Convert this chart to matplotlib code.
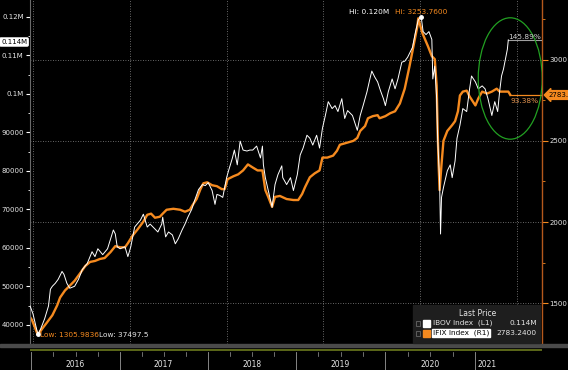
import matplotlib
matplotlib.use('Agg')
import matplotlib.pyplot as plt
from matplotlib.patches import Ellipse, Rectangle

# ---------------- data (fractional years, index levels) ----------------
ibov_t = [2015.97, 2016.00, 2016.05, 2016.08, 2016.12, 2016.16, 2016.18, 2016.20, 2016.23, 2016.26,
          2016.30, 2016.32, 2016.35, 2016.38, 2016.43, 2016.47, 2016.51, 2016.56, 2016.61, 2016.64,
          2016.67, 2016.72, 2016.77, 2016.83, 2016.85, 2016.87, 2016.90, 2016.95, 2016.98, 2017.01,
          2017.05, 2017.11, 2017.14, 2017.18, 2017.21, 2017.24, 2017.29, 2017.33, 2017.34, 2017.37,
          2017.40, 2017.44, 2017.47, 2017.50, 2017.54, 2017.57, 2017.60, 2017.64, 2017.67, 2017.71,
          2017.75, 2017.78, 2017.81, 2017.85, 2017.88, 2017.90, 2017.93, 2017.96, 2018.00, 2018.02,
          2018.06, 2018.08, 2018.11, 2018.14, 2018.17, 2018.21, 2018.24, 2018.27, 2018.31, 2018.35,
          2018.37, 2018.38, 2018.40, 2018.43, 2018.47, 2018.50, 2018.53, 2018.57, 2018.58, 2018.62,
          2018.66, 2018.69, 2018.73, 2018.76, 2018.79, 2018.83, 2018.86, 2018.89, 2018.93, 2018.96,
          2018.99, 2019.02, 2019.05, 2019.09, 2019.12, 2019.15, 2019.19, 2019.22, 2019.25, 2019.30,
          2019.35, 2019.38, 2019.41, 2019.45, 2019.48, 2019.50, 2019.53, 2019.56, 2019.59, 2019.62,
          2019.64, 2019.67, 2019.71, 2019.74, 2019.77, 2019.81, 2019.84, 2019.87, 2019.92, 2019.95,
          2019.98, 2020.01, 2020.03, 2020.06, 2020.09, 2020.12, 2020.13, 2020.15, 2020.17, 2020.18,
          2020.20, 2020.21, 2020.22, 2020.24, 2020.28, 2020.31, 2020.33, 2020.36, 2020.38, 2020.41,
          2020.44, 2020.48, 2020.51, 2020.53, 2020.57, 2020.60, 2020.64, 2020.67, 2020.70, 2020.74,
          2020.77, 2020.80, 2020.82, 2020.84, 2020.86, 2020.88, 2020.90, 2020.91]
ibov_v = [44870, 42820, 37500, 38970, 41540, 44870, 49230, 50000, 50770, 51800,
          53850, 53080, 50770, 49490, 50000, 51800, 54360, 55900, 58970, 57690,
          59740, 58210, 59740, 64620, 63590, 60260, 59740, 60260, 57690, 60260,
          65380, 67180, 68720, 65380, 66150, 65380, 64100, 66150, 67950, 62820,
          64100, 63330, 61030, 62310, 64620, 66150, 67950, 70000, 72310, 75130,
          76410, 76150, 76920, 74870, 71280, 73850, 73590, 73080, 78210, 80000,
          83330, 85380, 81540, 87690, 85380, 85130, 85380, 85380, 86410, 83330,
          86410, 81540, 78210, 74870, 70510, 76410, 78970, 81280, 78210, 76410,
          78210, 74870, 78970, 84100, 85900, 89230, 88460, 86670, 89230, 85900,
          91030, 94360, 97950, 96150, 96920, 95380, 98720, 93590, 95640, 94360,
          90510, 94360, 96920, 100510, 103850, 105900, 104360, 103080, 100770, 98720,
          96920, 100510, 103850, 101280, 103850, 108210, 108460, 109490, 112050, 115900,
          119230, 120000, 116150, 115380, 116150, 114100, 103850, 107180, 98720, 88460,
          77440, 63570, 73080, 75640, 80000, 81540, 78210, 82560, 88460, 91790,
          96150, 95380, 101280, 104620, 103080, 101280, 102050, 101280, 98720, 94360,
          97950, 95380, 100510, 104620, 106410, 108970, 111540, 114000]

ifix_t = [2015.97, 2015.99, 2016.05, 2016.10, 2016.14, 2016.20, 2016.25, 2016.28, 2016.33, 2016.38,
          2016.43, 2016.49, 2016.54, 2016.59, 2016.64, 2016.69, 2016.74, 2016.80, 2016.85, 2016.90,
          2016.95, 2016.98, 2017.03, 2017.08, 2017.14, 2017.18, 2017.22, 2017.26, 2017.31, 2017.34,
          2017.38, 2017.45, 2017.52, 2017.57, 2017.62, 2017.65, 2017.69, 2017.73, 2017.76, 2017.80,
          2017.85, 2017.90, 2017.95, 2017.98, 2018.01, 2018.07, 2018.12, 2018.17, 2018.22, 2018.27,
          2018.32, 2018.37, 2018.40, 2018.43, 2018.47, 2018.50, 2018.55, 2018.62, 2018.69, 2018.74,
          2018.78, 2018.81, 2018.86, 2018.91, 2018.96, 2018.99, 2019.04, 2019.10, 2019.14, 2019.17,
          2019.24, 2019.31, 2019.35, 2019.38, 2019.43, 2019.46, 2019.51, 2019.56, 2019.58, 2019.64,
          2019.69, 2019.74, 2019.79, 2019.84, 2019.89, 2019.93, 2019.97, 2019.98, 2020.02, 2020.05,
          2020.08, 2020.12, 2020.15, 2020.17, 2020.18, 2020.19, 2020.20, 2020.22, 2020.24, 2020.28,
          2020.33, 2020.36, 2020.39, 2020.41, 2020.44, 2020.48, 2020.51, 2020.57, 2020.60, 2020.64,
          2020.69, 2020.74, 2020.79, 2020.82, 2020.86, 2020.91, 2020.93]
ifix_v = [1415, 1397, 1306, 1348, 1379, 1427, 1488, 1536, 1579, 1609,
          1639, 1688, 1730, 1755, 1761, 1773, 1779, 1815, 1852, 1845,
          1845, 1870, 1918, 1955, 2003, 2045, 2052, 2027, 2033, 2052,
          2076, 2082, 2076, 2064, 2076, 2106, 2142, 2203, 2239, 2245,
          2227, 2221, 2203, 2203, 2264, 2282, 2294, 2318, 2355, 2336,
          2318, 2318, 2197, 2155, 2094, 2155, 2161, 2142, 2136, 2136,
          2173, 2215, 2276, 2300, 2318, 2397, 2397, 2409, 2439, 2476,
          2488, 2500, 2518, 2561, 2591, 2639, 2652, 2658, 2639, 2652,
          2670, 2682, 2730, 2821, 2961, 3082, 3203, 3254, 3167, 3124,
          3082, 3021, 3003, 2839, 2561, 2355, 2197, 2355, 2500, 2561,
          2597, 2621, 2682, 2779, 2803, 2809, 2773, 2718, 2761, 2803,
          2791, 2803, 2821, 2803, 2803, 2803, 2783]

left_ticks = [40000, 50000, 60000, 70000, 80000, 90000, 100000, 110000, 120000]
left_labels = ['40000', '50000', '60000', '70000', '80000', '90000', '0.1M', '0.11M', '0.12M']
right_ticks = [1500, 2000, 2500, 3000]
right_labels = ['1500', '2000', '2500', '3000']
year_labels = ['2016', '2017', '2018', '2019', '2020', '2021']
grid_years = [2016, 2017, 2018, 2019, 2020, 2021]

ibov_last_lbl = '0.114M'
ifix_last_lbl = '2783.2400'
ifix_flag_lbl = '2783.'
ibov_hi_lbl = 'Hi: 0.120M'
ifix_hi_lbl = 'Hi: 3253.7600'
ifix_low_lbl = 'Low: 1305.9836'
ibov_low_lbl = 'Low: 37497.5'
ibov_pct_lbl = '145.89%'
ifix_pct_lbl = '93.38%'

# ---------------- layout ----------------
W, H = 568, 370
ORANGE = '#f58a1f'
GRID = '#8a8a8a'
TXT = '#e6e6e6'

def fx(px):
    return px / W

def fy(py):
    return 1 - py / H

X0, X1 = 2015.969, 2021.258

fig = plt.figure(figsize=(W / 100, H / 100), dpi=100, facecolor='black')
ax = fig.add_axes([fx(30), fy(344), fx(542) - fx(30), fy(0) - fy(344)])
ax.set_facecolor('black')
ax2 = ax.twinx()

# IFIX on primary axis (right ticks), IBOV on twin (left ticks) -> white on top
ax.set_xlim(X0, X1)
ax.set_ylim(1281.8, 3366.7)
ax2.set_ylim(36154, 124359)
ax.yaxis.set_ticks_position('right')
ax2.yaxis.set_ticks_position('left')

for yv in right_ticks:
    ax.axhline(yv, color=GRID, lw=0.6, ls=(0, (1, 2)), zorder=1)
for xv in grid_years:
    ax.axvline(xv, color=GRID, lw=0.6, ls=(0, (1, 2)), zorder=1)

ax.plot(ifix_t, ifix_v, color=ORANGE, lw=1.7, zorder=3, solid_joinstyle='round')
ax2.plot(ibov_t, ibov_v, color='white', lw=0.7, zorder=4)

# last-value guide lines
ax.plot([ifix_t[-1], X1], [ifix_v[-1], ifix_v[-1]], color=ORANGE, lw=0.9, zorder=3)
ax2.plot([ibov_t[-1], X1], [ibov_v[-1], ibov_v[-1]], color='#a0a0a0', lw=0.8, zorder=3)

# hi / low markers
ax2.plot([ibov_t[ibov_v.index(min(ibov_v))]], [min(ibov_v)], 'o', color='white', ms=2.5, zorder=5)
ax2.plot([ibov_t[ibov_v.index(max(ibov_v))]], [max(ibov_v)], 'o', color='white', ms=2.5, zorder=5)

# green ellipse
ax2.add_patch(Ellipse((2020.93, 103970), 0.661, 31540, fill=False,
                      edgecolor='#22a022', lw=0.9, zorder=6))

# ticks
ax.set_yticks(right_ticks)
ax.set_yticklabels(right_labels)
ax.set_yticks([1250 + 250 * i for i in range(9)], minor=True)
ax.tick_params(axis='y', which='major', colors=ORANGE, labelcolor=TXT, length=4,
               width=0.8, labelsize=5, pad=1.5, direction='out')
ax.tick_params(axis='y', which='minor', colors=ORANGE, length=2.5, width=0.6, direction='out')
ax2.set_yticks(left_ticks)
ax2.set_yticklabels(left_labels)
ax2.set_yticks([35000 + 5000 * i for i in range(18)], minor=True)
ax2.tick_params(axis='y', which='major', colors='white', labelcolor=TXT, length=3,
                width=0.8, labelsize=5, pad=1.5, direction='out')
ax2.tick_params(axis='y', which='minor', colors='white', length=1.8, width=0.6, direction='out')
ax.set_xticks([])
ax2.set_xticks([])

for a in (ax, ax2):
    for s in a.spines.values():
        s.set_visible(False)
ax.spines['right'].set_visible(True)
ax.spines['right'].set_color('#b5581c')
ax.spines['right'].set_linewidth(1.0)
ax2.spines['left'].set_visible(True)
ax2.spines['left'].set_color('#6a6a6a')
ax2.spines['left'].set_linewidth(0.8)

# bottom gray band and date strip
fig.patches.append(Rectangle((0, fy(347)), 1, fy(344) - fy(347), transform=fig.transFigure,
                             color='#4a4a4a', zorder=0))
axb = fig.add_axes([fx(30), 0, fx(542) - fx(30), fy(347)])
axb.set_facecolor('black')
axb.set_xlim(X0, X1)
axb.set_ylim(0, 1)
axb.axis('off')
axb.axhline(0.88, color='#6b7a1e', lw=1.2)
sep_px = [31, 120, 208, 296, 385, 475]
lab_px = [75, 163, 252, 340, 430, 487]
sep_t = [2016 + (p - 33) / 96.8 for p in sep_px]
lab_t = [2016 + (p - 33) / 96.8 for p in lab_px]
for st in sep_t:
    axb.plot([st, st], [0, 0.8], color='#9a9a9a', lw=0.6)
for i in range(len(sep_t) - 1):
    step = (sep_t[i + 1] - sep_t[i]) / 4
    for k in range(1, 4):
        axb.plot([sep_t[i] + k * step] * 2, [0.62, 0.8], color='#9a9a9a', lw=0.5)
for lt, lab in zip(lab_t, year_labels):
    axb.text(lt, 0.22, lab, ha='center', va='center', fontsize=5.5, color=TXT)

# last-price flags
fig.text(fx(1), fy(42), ibov_last_lbl, fontsize=5, color='black', va='center', ha='left',
         bbox=dict(boxstyle='round,pad=0.15', fc='white', ec='white'))
fig.text(fx(549), fy(95), ifix_flag_lbl, fontsize=5, color='black', va='center', ha='left',
         bbox=dict(boxstyle='larrow,pad=0.2', fc=ORANGE, ec=ORANGE))

# hi / low text
fig.text(fx(349), fy(12), ibov_hi_lbl, fontsize=5.3, color='white', va='center', ha='left')
fig.text(fx(395), fy(12), ifix_hi_lbl, fontsize=5.3, color=ORANGE, va='center', ha='left')
fig.text(fx(40), fy(335), ifix_low_lbl, fontsize=5.3, color=ORANGE, va='center', ha='left')
fig.text(fx(99), fy(335), ibov_low_lbl, fontsize=5.3, color=TXT, va='center', ha='left')

# percent labels
fig.text(fx(541), fy(37), ibov_pct_lbl, fontsize=5.3, color='#d0d0d0', va='center', ha='right')
fig.text(fx(539), fy(101), ifix_pct_lbl, fontsize=5.3, color='#e39450', va='center', ha='right')

# legend box
fig.patches.append(Rectangle((fx(413), fy(343)), fx(540) - fx(413), fy(305) - fy(343),
                             transform=fig.transFigure, color='#1e1e1e', zorder=1))
fig.text(fx(478), fy(313), 'Last Price', fontsize=5.5, color=TXT, ha='center', va='center')
rows = [('IBOV Index  (L1)', ibov_last_lbl, 'white', 323, False),
        ('IFIX Index  (R1)', ifix_last_lbl, ORANGE, 333, True)]
for name, val, col, yy, hl in rows:
    fig.patches.append(Rectangle((fx(416), fy(yy + 2.5)), fx(4), fy(yy - 2.5) - fy(yy + 2.5),
                                 transform=fig.transFigure, fc='none', ec='#777777', lw=0.5, zorder=2))
    fig.patches.append(Rectangle((fx(423), fy(yy + 3.5)), fx(7), fy(yy - 3.5) - fy(yy + 3.5),
                                 transform=fig.transFigure, color=col, zorder=2))
    if hl:
        fig.text(fx(433), fy(yy), name, fontsize=5.3, color='black', ha='left', va='center',
                 bbox=dict(boxstyle='square,pad=0.1', fc='white', ec='white'))
    else:
        fig.text(fx(433), fy(yy), name, fontsize=5.3, color=TXT, ha='left', va='center')
    fig.text(fx(537), fy(yy), val, fontsize=5.3, color=TXT, ha='right', va='center')

fig.savefig('out.png', dpi=100, facecolor='black')
